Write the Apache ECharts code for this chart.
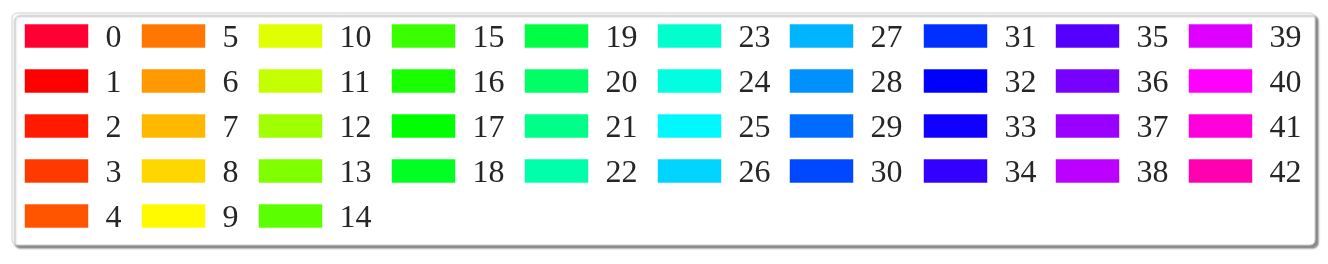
<!DOCTYPE html>
<html>
<head>
<meta charset="utf-8">
<script src="https://cdn.jsdelivr.net/npm/echarts@6/dist/echarts.min.js"></script>
<style>
html,body{margin:0;padding:0;background:#fff;}
#chart{width:1328px;height:264px;}
</style>
</head>
<body>
<div id="chart"></div>
<script>
const names = ['0','1','2','3','4','5','6','7','8','9','10','11','12','13','14','15','16','17','18','19','20','21','22','23','24','25','26','27','28','29','30','31','32','33','34','35','36','37','38','39','40','41','42'];
const colors = ['#FF0033','#FF0000','#FF1A00','#FF3A00','#FF5500','#FF7700','#FF9900','#FFB800','#FFD700','#FFFA00',
  '#E0FF00','#C4FF00','#A0FF00','#80FF00','#5CFF00','#3AFF00','#1AFF00','#00FF00','#00FF22','#00FF44',
  '#00FF66','#00FF88','#00FFAA','#00FFCC','#00FFE0','#00F8FF','#00D4FF','#00B4FF','#0090FF','#006CFF',
  '#0048FF','#0030FF','#0000FF','#1000FF','#3300FF','#5500FF','#7700FF','#9900FF','#BB00FF','#DD00FF',
  '#FF00FF','#FF00DD','#FF00B0'];
const columnSizes = [5,5,5,4,4,4,4,4,4,4];

const columnLeft = [24,141,258,391,524,657,789,923,1055,1188];

const series = names.map((n, i) => ({
  name: n, type: 'bar', data: [], itemStyle: { color: colors[i] }
}));

const legends = [];
let start = 0;
columnSizes.forEach((size, c) => {
  legends.push({
    orient: 'vertical',
    left: columnLeft[c],
    top: 23,
    height: 238,
    padding: 0,
    itemWidth: 64,
    itemHeight: 30,
    itemGap: 13,
    z: 5,
    selectedMode: false,
    icon: 'path://M0,30M0,0L64,0L64,24L0,24Z',
    itemStyle: { borderColor: 'rgba(255,255,255,0.55)', borderWidth: 1 },
    textStyle: {
      fontFamily: '"Liberation Serif", "Times New Roman", serif',
      fontSize: 32,
      color: '#262626',
      padding: [0, 0, 0, 12]
    },
    data: names.slice(start, start + size)
  });
  start += size;
});

const chart = echarts.init(document.getElementById('chart'), null, { renderer: 'canvas' });
chart.setOption({
  animation: false,
  backgroundColor: '#fff',
  grid: { left: 0, right: 0, top: 0, bottom: 0, show: false },
  xAxis: { type: 'category', show: false, data: [] },
  yAxis: { type: 'value', show: false },
  graphic: [{
    type: 'rect',
    z: 0,
    shape: { x: 12, y: 13, width: 1303, height: 232, r: 5 },
    style: {
      fill: '#fff', stroke: '#cfcfcf', lineWidth: 1,
      shadowColor: 'rgba(0,0,0,0.45)', shadowBlur: 2, shadowOffsetX: 3, shadowOffsetY: 3
    }
  }],
  legend: legends,
  series: series
});
</script>
</body>
</html>
